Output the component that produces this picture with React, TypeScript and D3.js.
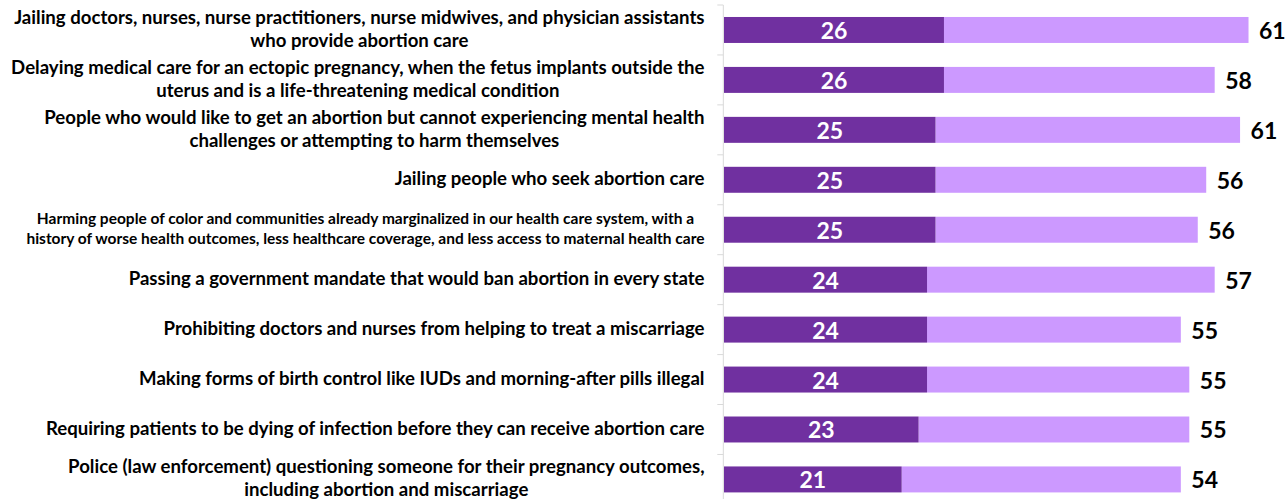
import React, { useEffect, useRef } from 'react';
import * as d3 from 'd3';

// Category labels (each entry = the lines of one label, as wrapped in the original)
const categories: string[][] = [
  ['Jailing doctors, nurses, nurse practitioners, nurse midwives, and physician assistants', 'who provide abortion care'],
  ['Delaying medical care for an ectopic pregnancy, when the fetus implants outside the', 'uterus and is a life-threatening medical condition'],
  ['People who would like to get an abortion but cannot experiencing mental health', 'challenges or attempting to harm themselves'],
  ['Jailing people who seek abortion care'],
  ['Harming people of color and communities already marginalized in our health care system, with a', 'history of worse health outcomes, less healthcare coverage, and less access to maternal health care'],
  ['Passing a government mandate that would ban abortion in every state'],
  ['Prohibiting doctors and nurses from helping to treat a miscarriage'],
  ['Making forms of birth control like IUDs and morning-after pills illegal'],
  ['Requiring patients to be dying of infection before they can receive abortion care'],
  ['Police (law enforcement) questioning someone for their pregnancy outcomes,', 'including abortion and miscarriage'],
];
// Dark segment (strongly), light segment (somewhat), and total label
const strongly = [26, 26, 25, 25, 25, 24, 24, 24, 23, 21];
const somewhat = [36, 32, 36, 32, 31, 34, 30, 31, 32, 33];
const totals = [61, 58, 61, 56, 56, 57, 55, 55, 55, 54];

// Styles
const W = 1287;
const H = 499;
const DARK = '#7030A0';
const LIGHT = '#CC99FF';
const FONT = "Lato, 'Open Sans', sans-serif";
const labelFontSizes = [18.6, 18.6, 18.6, 18.6, 15.5, 18.6, 18.6, 18.6, 18.6, 18.6];

export default function App() {
  const ref = useRef<SVGSVGElement | null>(null);

  useEffect(() => {
    const svg = d3.select(ref.current);
    svg.selectAll('*').remove();

    const x0 = 724;
    const pxPerUnit = 8.46;
    const x = d3.scaleLinear().domain([0, 65]).range([x0, x0 + 65 * pxPerUnit]);
    const idx = categories.map((_, i) => String(i));
    const y = d3.scaleBand<string>().domain(idx).range([5, 504.4]).paddingInner(0.48).paddingOuter(0.24);
    const step = y.step();
    const bw = y.bandwidth();

    // axis line and ticks
    const axisX = x0 - 0.7;
    svg.append('line')
      .attr('x1', axisX).attr('x2', axisX).attr('y1', 5).attr('y2', H)
      .attr('stroke', '#d9d9d9').attr('stroke-width', 1);
    const boundaries = d3.range(categories.length + 1).map(i => 5 + i * step);
    svg.selectAll('line.tick').data(boundaries).enter().append('line')
      .attr('class', 'tick')
      .attr('x1', axisX - 6).attr('x2', axisX).attr('y1', d => d).attr('y2', d => d)
      .attr('stroke', '#d9d9d9').attr('stroke-width', 1);

    const g = svg.selectAll('g.row').data(idx).enter().append('g').attr('class', 'row');

    // light segment
    g.append('rect')
      .attr('x', (_, i) => x(strongly[i]))
      .attr('y', d => y(d)!)
      .attr('width', (_, i) => x(strongly[i] + somewhat[i]) - x(strongly[i]))
      .attr('height', bw)
      .attr('fill', LIGHT);
    // dark segment
    g.append('rect')
      .attr('x', x(0))
      .attr('y', d => y(d)!)
      .attr('width', (_, i) => x(strongly[i]) - x(0))
      .attr('height', bw)
      .attr('fill', DARK);

    // value labels in dark bars
    g.append('text')
      .attr('x', (_, i) => (x(0) + x(strongly[i])) / 2)
      .attr('y', d => y(d)! + bw / 2)
      .attr('text-anchor', 'middle')
      .attr('dominant-baseline', 'central')
      .attr('fill', '#ffffff')
      .attr('font-family', FONT)
      .attr('font-weight', 700)
      .attr('font-size', 23)
      .text((_, i) => String(strongly[i]));

    // total labels
    g.append('text')
      .attr('x', (_, i) => x(strongly[i] + somewhat[i]) + 10.5)
      .attr('y', d => y(d)! + bw / 2)
      .attr('text-anchor', 'start')
      .attr('dominant-baseline', 'central')
      .attr('fill', '#000000')
      .attr('font-family', FONT)
      .attr('font-weight', 700)
      .attr('font-size', 23)
      .text((_, i) => String(totals[i]));

    // category labels
    const labelRight = 704.5;
    categories.forEach((lines, i) => {
      const fs = labelFontSizes[i];
      const lh = fs * 1.24;
      const cy = y(String(i))! + bw / 2 - 1.8;
      const tg = svg.append('g');
      const texts = lines.map((line, j) =>
        tg.append('text')
          .attr('y', cy + (j - (lines.length - 1) / 2) * lh)
          .attr('dominant-baseline', 'central')
          .attr('font-family', FONT)
          .attr('font-weight', 700)
          .attr('font-size', fs)
          .attr('fill', '#000000')
          .text(line)
      );
      if (lines.length === 1) {
        texts[0].attr('x', labelRight).attr('text-anchor', 'end');
      } else {
        const maxW = d3.max(texts, t => (t.node() as SVGTextElement).getComputedTextLength()) || 0;
        const cx = labelRight - maxW / 2;
        texts.forEach(t => t.attr('x', cx).attr('text-anchor', 'middle'));
      }
    });
  }, []);

  return (
    <svg
      ref={ref}
      width={W}
      height={H}
      style={{ position: 'absolute', left: 0, top: 0, display: 'block', background: '#ffffff' }}
    />
  );
}
